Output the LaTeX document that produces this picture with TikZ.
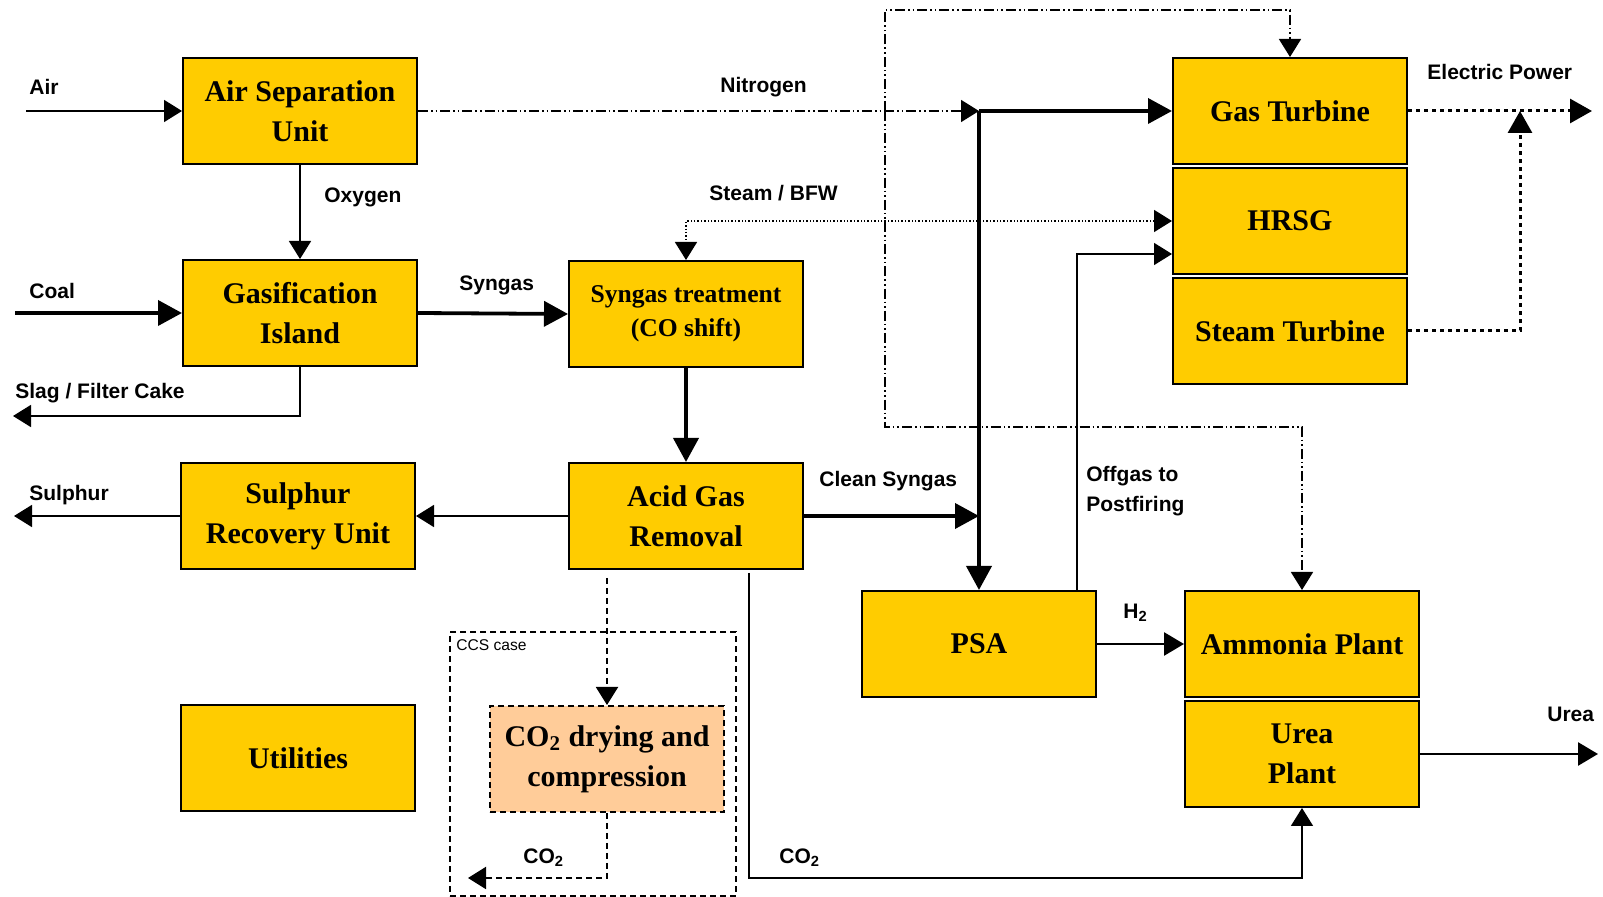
\documentclass[tikz,border=0pt]{standalone}
\usepackage{fontspec}
\setmainfont{Liberation Serif}
\setsansfont{Liberation Sans}
\usetikzlibrary{arrows.meta,positioning}
\definecolor{unitfill}{RGB}{255,204,0}
\definecolor{ccsfill}{RGB}{255,204,153}
\tikzstyle{unit} = [rectangle, draw=black, line width=1pt, fill=unitfill, text=black, align=center, font=\bfseries\fontsize{15}{20}\selectfont, minimum width=117pt, minimum height=53pt, inner sep=0pt]
\tikzstyle{ccsunit} = [unit, fill=ccsfill, dash pattern=on 3pt off 2pt]
\tikzstyle{ccsbox} = [rectangle, draw=black, line width=1pt, dash pattern=on 3pt off 2pt, minimum width=143pt, minimum height=132pt, inner sep=0pt]
\tikzstyle{lbl} = [font=\sffamily\bfseries\fontsize{10.5}{15}\selectfont, anchor=west, inner sep=0pt, align=left]
\tikzstyle{flow} = [draw, line width=0.8pt, -{Triangle[length=9pt,width=11pt]}]
\tikzstyle{midflow} = [draw, line width=1.4pt, -{Triangle[length=10pt,width=11.5pt]}]
\tikzstyle{thickflow} = [draw, line width=1.9pt, -{Triangle[length=12pt,width=12.5pt]}]
\tikzstyle{n2flow} = [flow, dash pattern=on 5pt off 1.5pt on 0.8pt off 1.5pt on 0.8pt off 1.5pt]
\tikzstyle{steamflow} = [draw, line width=0.8pt, dash pattern=on 0.7pt off 1pt, {Triangle[length=9pt,width=11pt]}-{Triangle[length=9pt,width=11pt]}]
\tikzstyle{powerflow} = [draw, line width=1.5pt, dash pattern=on 2pt off 2pt, -{Triangle[length=11pt,width=12pt]}]
\tikzstyle{ccsflow} = [flow, line width=1pt, dash pattern=on 3pt off 2pt]

\begin{document}
\begin{tikzpicture}[x=0.5pt, y=-0.5pt]
\useasboundingbox (0,0) rectangle (1603,897);

% units =============================

% air, gasification, syngas
\node[unit] (asu) at (300,111) {Air Separation\\Unit};
\node[unit] (gasif) at (300,313) {Gasification\\Island};
\node[unit, font=\bfseries\fontsize{12.8}{17}\selectfont] (syntreat) at (686,314) {Syngas treatment\\(CO shift)};
\node[unit] (agr) at (686,516) {Acid Gas\\Removal};
\node[unit] (sru) at (298,516) {Sulphur\\Recovery Unit};
\node[unit] (util) at (298,758) {Utilities};

% CCS case
\node[ccsbox] (ccs) at (593,764) {};
\node[ccsunit] (co2dry) at (607,759) {CO\textsubscript{2} drying and\\compression};
\node[font=\sffamily\fontsize{7.8}{9}\selectfont, anchor=west, inner sep=0pt] (lccs) at (456,645) {CCS case};

% power island
\node[unit] (gt) at (1290,111) {Gas Turbine};
\node[unit, below=1pt of gt] (hrsg) {HRSG};
\node[unit, below=1pt of hrsg] (st) {Steam Turbine};

% hydrogen, ammonia, urea
\node[unit] (psa) at (979,644) {PSA};
\node[unit] (nh3) at (1302,644) {Ammonia Plant};
\node[unit, below=1pt of nh3] (urea) {Urea\\Plant};

% labels
\node[lbl] (lair) at (29,87) {Air};
\node[lbl] (lcoal) at (29,291) {Coal};
\node[lbl] (loxy) at (324,197) {Oxygen};
\node[lbl] (lslag) at (15,393) {Slag / Filter Cake};
\node[lbl] (lsyngas) at (459,285) {Syngas};
\node[lbl] (lnitro) at (720,87) {Nitrogen};
\node[lbl] (lsteam) at (709,193) {Steam / BFW};
\node[lbl] (lclean) at (819,481) {Clean Syngas};
\node[lbl] (lsulphur) at (29,495) {Sulphur};
\node[lbl] (loffgas) at (1086,491) {Offgas to\\Postfiring};
\node[lbl] (lh2) at (1123,613) {H\textsubscript{2}};
\node[lbl] (lpower) at (1427,72) {Electric Power};
\node[lbl] (lurea) at (1547,714) {Urea};
\node[lbl] (lco2a) at (779,858) {CO\textsubscript{2}};
\node[lbl] (lco2b) at (523,858) {CO\textsubscript{2}};

% free ends and junctions
\coordinate (airin) at (26,111);
\coordinate (coalin) at (15,313);
\coordinate (slagout) at (13,416);
\coordinate (sulphurout) at (14,516);
\coordinate (n2split) at (885,111);
\coordinate (n2top) at (885,10);
\coordinate (n2low) at (885,427);
\coordinate (sgjoin) at (979,111);
\coordinate (pwrjoin) at (1520,111);
\coordinate (powerout) at (1592,111);
\coordinate (ureaout) at (1598,752);
\coordinate (ccsstart) at (607,578);
\coordinate (co2out) at (468,878);
\coordinate (co2start) at (749,573);
\coordinate (co2low) at (749,878);

% edges
\path[flow] (airin) -- (asu.west);
\path[flow] (asu) -- (gasif);
\path[thickflow] (coalin) -- (gasif.west);
\path[flow] (gasif.south) |- (slagout);
\path[thickflow] (gasif.east) -- (syntreat.west);
\path[thickflow] (syntreat) -- (agr);
\path[flow] (agr) -- (sru);
\path[flow] (sru.west) -- (sulphurout);

\path[n2flow] (asu.east) -- (sgjoin);
\path[n2flow] (n2split) -- (n2top) -| (gt.north);
\path[n2flow] (n2split) -- (n2low) -| (nh3.north);

\path[thickflow] (agr.east) -- (agr.east -| sgjoin);
\path[thickflow] (sgjoin) -- (gt.west);
\path[thickflow] (sgjoin) -- (psa.north);
\path[flow] ([xshift=49pt]psa.north) |- ([yshift=-16.5pt]hrsg.west);
\path[steamflow] (hrsg.west) -| (syntreat.north);

\path[powerflow] (gt.east) -- (powerout);
\path[powerflow] (st.east) -| (pwrjoin);

\path[midflow] (psa) -- (nh3);
\path[midflow] (urea.east) -- (urea.east -| ureaout);
\path[flow] (co2start) -- (co2low) -| (urea.south);

\path[ccsflow] (ccsstart) -- (co2dry.north);
\path[ccsflow] (co2dry.south) |- (co2out);

\end{tikzpicture}
\end{document}
